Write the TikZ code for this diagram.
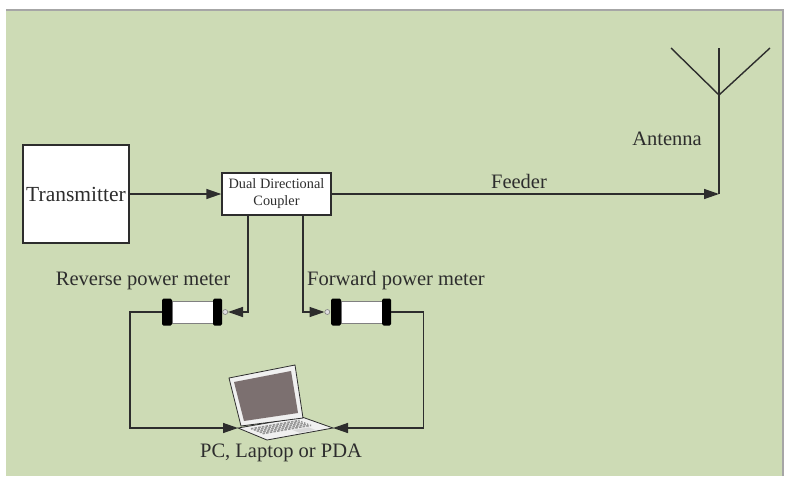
\documentclass[tikz,border=0pt]{standalone}
\usepackage{fontspec}
\setmainfont{Liberation Serif}
\usetikzlibrary{arrows.meta}
\definecolor{panel}{RGB}{205,219,181}
\definecolor{ink}{RGB}{45,45,45}
\definecolor{screen}{RGB}{124,112,112}
\definecolor{keys}{RGB}{150,150,150}

\begin{document}
\begin{tikzpicture}[x=1pt,y=-1pt,
		wire/.style={ink, line width=1.4pt},
		tip/.style={-{Triangle[length=15pt,width=10pt]}},
		box/.style={draw=ink, line width=1.4pt, fill=white, inner sep=0pt},
		txt/.style={font=\fontsize{20.5}{22}\selectfont, text=ink, inner sep=0pt},
		port/.style={circle, draw=gray, fill=gray!25, line width=0.6pt, minimum size=5pt, inner sep=0pt},
		meter/.style={inner sep=0pt, minimum width=60pt, minimum height=27pt,
			path picture={
				\fill[white, draw=gray, line width=0.5pt] ([xshift=10pt,yshift=-2.5pt]path picture bounding box.north west) rectangle ([xshift=-9pt,yshift=2.5pt]path picture bounding box.south east);
				\fill[black, rounded corners=1.5pt] (path picture bounding box.north west) rectangle ([xshift=10pt]path picture bounding box.south west);
				\fill[black, rounded corners=1.5pt] (path picture bounding box.north east) rectangle ([xshift=-9pt]path picture bounding box.south east);
			}}]
	\useasboundingbox (0,0) rectangle (791,476);
	\fill[white]	(0,0) rectangle (791,476);
	\fill[panel]	(6,10) rectangle (783,476);
	\draw[gray!70, line width=1.5pt]	(6,10) -- (783,10) -- (783,476);

	% blocks
	\node[box, minimum width=106pt, minimum height=98pt, font=\fontsize{21.5}{23}\selectfont, text=ink] (tx) at (76,194) {Transmitter};
	\node[box, minimum width=109pt, minimum height=42pt, align=center, font=\fontsize{14.3}{17}\selectfont, text=ink] (ddc) at (276.5,194) {Dual Directional\\Coupler};
	\node[meter] (rev) at (192,312) {};
	\node[meter] (fwd) at (361,312) {};
	\node[port] (revport) at ([xshift=3pt]rev.east) {};
	\node[port] (fwdport) at ([xshift=-3.5pt]fwd.west) {};

	% antenna
	\coordinate (ant) at (719,194);
	\coordinate (mast) at (719,48);
	\draw[wire]	(ant) -- (mast);
	\draw[wire]	(671,48) -- (719,95) -- (770,48);

	% laptop
	\coordinate (pcL) at (238,428);
	\coordinate (pcR) at (333,428);
	\filldraw[fill=gray!12, draw=ink, line width=0.8pt]	(pcL) -- (302,417) -- (pcR) -- (267,440) -- cycle;
	\filldraw[fill=gray!12, draw=ink, line width=0.8pt]	(229,378) -- (295,365) -- (303,418) -- (241,426) -- cycle;
	\fill[screen]	(234,382) -- (291,371) -- (298,413) -- (244,421) -- cycle;
	\foreach \t in {0.18,0.28,0.38,0.48,0.58}
		\draw[keys, line width=1.6pt, dash pattern=on 2.5pt off 1.2pt]
			({238+29*\t+64*0.12},{428+12*\t-11*0.12}) -- ({238+29*\t+64*0.88},{428+12*\t-11*0.88});
	\fill[gray!30]	({238+29*0.68+64*0.55},{428+12*0.68-11*0.55}) -- ({238+29*0.68+64*0.8},{428+12*0.68-11*0.8}) -- ({238+29*0.9+64*0.8},{428+12*0.9-11*0.8}) -- ({238+29*0.9+64*0.55},{428+12*0.9-11*0.55}) -- cycle;

	% labels
	\node[txt] (feeder) at (519,181) {Feeder};
	\node[txt] (antlbl) at (667,139) {Antenna};
	\node[txt] (revlbl) at (143,281) {Reverse power meter};
	\node[txt] (fwdlbl) at (396,281) {Forward power meter};
	\node[txt] (pclbl) at (281,453) {PC, Laptop or PDA};

	% connections
	\draw[wire, tip]	(tx.east) -- (ddc.west);
	\draw[wire, tip]	(ddc.east) -- (ant);
	\draw[wire, tip]	([xshift=-28.5pt]ddc.south) |- (revport.east);
	\draw[wire, tip]	([xshift=26.5pt]ddc.south) |- (fwdport.west);
	\draw[wire, tip]	(rev.west) -- ++(-32,0) |- (pcL);
	\draw[wire, tip]	(fwd.east) -- ++(32,0) |- (pcR);
\end{tikzpicture}
\end{document}
